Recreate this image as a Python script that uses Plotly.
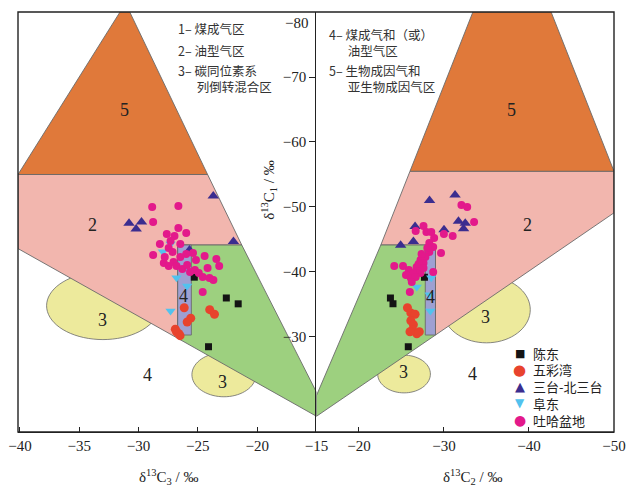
import numpy as np
import plotly.graph_objects as go

# ---------------- sample data: left panel (δ13C3, δ13C1), right panel (δ13C2, δ13C1)
chendong_c3 = [-25.3, -22.6, -21.6, -24.1]
chendong_c1_l = [-39.2, -36.0, -35.1, -28.5]
chendong_c2 = [-27.7, -23.7, -24.0, -25.8]
chendong_c1_r = [-39.2, -36.0, -35.1, -28.5]

wucaiwan_c3 = [-26.15, -24.0, -23.6, -25.6, -25.9, -26.9, -26.6, -26.8, -26.5]
wucaiwan_c1_l = [-34.5, -34.2, -33.5, -32.9, -32.3, -31.2, -30.5, -30.8, -30.2]
wucaiwan_c2 = [-25.7, -26.1, -26.6, -26.1, -26.4, -26.3, -27.1, -26.8, -26.0]
wucaiwan_c1_r = [-34.5, -33.7, -33.5, -32.5, -31.9, -31.1, -30.8, -30.5, -30.8]

santai_c3 = [-23.7, -30.8, -29.75, -30.2, -22.0, -25.7]
santai_c1_l = [-51.7, -47.5, -47.7, -46.6, -44.7, -43.4]
santai_c2 = [-28.3, -31.3, -26.6, -30.0, -31.7, -32.5, -32.3, -26.4, -24.9]
santai_c1_r = [-51.0, -51.85, -47.0, -46.5, -47.8, -47.5, -46.65, -44.7, -44.1]

fudong_c3 = [-27.3, -27.95, -26.8, -25.9, -27.3, -26.0]
fudong_c1_l = [-44.3, -43.1, -39.1, -37.85, -34.0, -40.6]
fudong_c2 = [-26.8, -28.5, -28.4, -28.3]
fudong_c1_r = [-37.7, -39.1, -34.0, -36.5]

tuha_c3 = [-28.85, -26.64, -28.77, -26.64, -25.98, -27.62, -26.97, -27.3, -28.2,
           -26.48, -27.46, -28.77, -27.13, -25.98, -25.41, -24.43, -23.44, -23.2,
           -25.16, -27.87, -27.46, -27.05, -26.8, -26.31, -25.9, -25.25, -24.92,
           -24.59, -24.02, -23.69, -25.66, -24.59, -26.48, -27.79, -24.18]
tuha_c1_l = [-50.0, -50.15, -47.69, -46.77, -46.0, -45.85, -45.54, -44.77, -44.31,
             -44.31, -43.69, -42.62, -43.08, -42.77, -42.92, -42.46, -42.0, -40.92,
             -41.85, -41.38, -40.92, -41.54, -40.92, -40.46, -41.08, -40.31, -39.85,
             -39.23, -39.08, -38.77, -40.0, -36.92, -42.31, -42.31, -40.62]
tuha_c2 = [-32.05, -32.73, -33.54, -31.02, -29.99, -27.59, -26.67, -27.93, -28.5,
           -28.84, -28.27, -28.73, -29.65, -28.27, -27.81, -27.24, -24.15, -25.18,
           -26.78, -27.59, -25.87, -26.44, -27.24, -25.53, -26.1, -26.67, -28.73,
           -25.98, -28.04, -27.36, -27.01, -26.21, -27.59]
tuha_c1_r = [-50.31, -50.0, -47.69, -45.54, -45.85, -47.08, -46.31, -46.15, -46.15,
             -45.23, -44.46, -43.85, -42.92, -43.08, -42.31, -41.85, -40.92, -40.92,
             -40.77, -41.38, -40.31, -39.85, -39.85, -39.54, -39.08, -39.23, -40.0,
             -36.92, -43.69, -42.77, -41.23, -38.46, -40.62]

# ---------------- genetic zones (x, y vertex lists)
zone5_left = [(-40.16, -55.0), (-31.56, -80.0), (-30.74, -80.0), (-24.18, -55.0)]
zone2_left = [(-40.16, -55.0), (-24.18, -55.0), (-21.3, -44.15), (-26.7, -44.15),
              (-26.7, -29.8), (-40.16, -43.6)]
zone1_left = [(-26.7, -44.15), (-21.3, -44.15), (-15.0, -21.5), (-15.0, -17.8),
              (-26.7, -29.8)]
zone4_left_box = [(-26.7, -44.15), (-25.55, -44.15), (-25.55, -30.3), (-26.7, -30.3)]

zone5_right = [(-33.4, -80.0), (-42.6, -80.0), (-50.0, -55.5), (-26.0, -55.5)]
zone2_right = [(-26.0, -55.5), (-50.0, -55.5), (-50.0, -49.1), (-29.0, -30.3),
               (-29.0, -44.15), (-22.57, -44.15)]
zone1_right = [(-22.57, -44.15), (-29.0, -44.15), (-29.0, -30.3), (-15.0, -17.8),
               (-15.0, -21.0)]
zone4_right_box = [(-27.8, -44.15), (-29.0, -44.15), (-29.0, -30.3), (-27.8, -30.3)]

# mixing zones "3": (centre x, centre y, half-width, half-height)
zone3_left = [(-33.0, -34.8, 4.75, 5.2), (-22.8, -24.2, 2.7, 3.4)]
zone3_right = [(-35.0, -34.2, 5.15, 5.1), (-25.3, -24.3, 3.1, 2.9)]

# zone number labels (x, y, text)
labels_left = [(-31.15, -64.9, "5"), (-33.85, -47.2, "2"), (-26.2, -36.3, "4"),
               (-33.0, -32.6, "3"), (-22.95, -23.1, "3"), (-29.26, -24.15, "4")]
labels_right = [(-37.9, -64.9, "5"), (-39.8, -47.2, "2"), (-28.4, -36.2, "4"),
                (-34.9, -33.1, "3"), (-25.2, -24.6, "3"), (-33.4, -24.3, "4")]

y_ticks = [-80, -70, -60, -50, -40, -30]

ORANGE = "#E0793A"
PINK = "#F2B6AE"
GREEN = "#9DD07F"
YELLOW = "#EDEA9C"
LILAC = "#9EA0D2"
EDGE = "#6A6A6A"

SERIF = "Liberation Serif, Noto Sans CJK SC, serif"
CJK = "Noto Sans CJK SC, Liberation Serif, serif"
SYM = "DejaVu Sans, sans-serif"

W, H = 634, 486
ML, MR, MT, MB = 13, 8, 12, 54
PW, PH = W - ML - MR, H - MT - MB
split = (320 - ML) / PW


def px_x(px):
    return (px - ML) / PW


def px_y(py):
    return (H - MB - py) / PH


def poly_path(pts):
    return "M " + " L ".join(f"{x},{y}" for x, y in pts) + " Z"


def ellipse_path(cx, cy, rx, ry, n=72):
    t = np.linspace(0, 2 * np.pi, n, endpoint=False)
    return poly_path(list(zip(cx + rx * np.cos(t), cy + ry * np.sin(t))))


fig = go.Figure()

shapes = []
for xr, ells, z2, z5, z1, box in [
    ("x", zone3_left, zone2_left, zone5_left, zone1_left, zone4_left_box),
    ("x2", zone3_right, zone2_right, zone5_right, zone1_right, zone4_right_box),
]:
    for cx, cy, rx, ry in ells:
        shapes.append(dict(type="path", path=ellipse_path(cx, cy, rx, ry), xref=xr, yref="y",
                           fillcolor=YELLOW, line=dict(color=EDGE, width=0.8), layer="below"))
    for pts, col in [(z2, PINK), (z5, ORANGE), (z1, GREEN), (box, LILAC)]:
        shapes.append(dict(type="path", path=poly_path(pts), xref=xr, yref="y",
                           fillcolor=col, line=dict(color=EDGE, width=0.9), layer="below"))

# outer frame
shapes.append(dict(type="rect", xref="paper", yref="paper", x0=0, x1=1, y0=0, y1=1,
                   line=dict(color="#222", width=1.4), fillcolor="rgba(0,0,0,0)"))

groups = [
    ("陈东", "square", 7, "#141414", "■", 11, chendong_c3, chendong_c1_l, chendong_c2, chendong_c1_r),
    ("五彩湾", "circle", 9, "#E8432D", "●", 15, wucaiwan_c3, wucaiwan_c1_l, wucaiwan_c2, wucaiwan_c1_r),
    ("三台-北三台", "triangle-up", 10, "#3B2D8F", "▲", 13, santai_c3, santai_c1_l, santai_c2, santai_c1_r),
    ("阜东", "triangle-down", 9, "#52C2EE", "▼", 12, fudong_c3, fudong_c1_l, fudong_c2, fudong_c1_r),
    ("吐哈盆地", "circle", 8, "#E3198B", "●", 14, tuha_c3, tuha_c1_l, tuha_c2, tuha_c1_r),
]
for name, sym, size, col, _, _, x3, y3, x2, y2 in groups:
    mk = dict(symbol=sym, size=size, color=col, line=dict(width=0))
    fig.add_trace(go.Scatter(x=x3, y=y3, mode="markers", marker=mk, name=name,
                             xaxis="x", yaxis="y", showlegend=False))
    fig.add_trace(go.Scatter(x=x2, y=y2, mode="markers", marker=mk, name=name,
                             xaxis="x2", yaxis="y", showlegend=False))

ann = []


def paper_text(px, py, text, font, xanchor="center", **kw):
    ann.append(dict(x=px_x(px), y=px_y(py), xref="paper", yref="paper", text=text,
                    showarrow=False, xanchor=xanchor, yanchor="middle", font=font, **kw))


for xr, labs in [("x", labels_left), ("x2", labels_right)]:
    for x, y, t in labs:
        ann.append(dict(x=x, y=y, xref=xr, yref="y", text=t, showarrow=False,
                        xanchor="center", yanchor="middle",
                        font=dict(family=SERIF, size=18, color="#222")))

# zone key text
key_font = dict(family=CJK, size=12.5, color="#333")
key_text = [(175, 29, "1– 煤成气区"), (175, 50, "2– 油型气区"),
            (175, 78, "3– 碳同位素系<br>\u3000\u2002列倒转混合区"),
            (331, 43, "4– 煤成气和（或）<br>\u3000\u2002油型气区"),
            (331, 78, "5– 生物成因气和<br>\u3000\u2002亚生物成因气区")]
for px, py, t in key_text:
    paper_text(px, py, t, key_font, xanchor="left", align="left")

# marker key (lower right)
for i, (name, _, _, col, glyph, gsize, *_rest) in enumerate(groups):
    ry = 353 + i * 16.8
    paper_text(529, ry, glyph, dict(family=SYM, size=gsize, color=col))
    paper_text(541, ry, name, dict(family=CJK, size=13, color="#222"), xanchor="left")

# axis titles
title_font = dict(family=SERIF, size=15, color="#222")
paper_text(168, 477, "δ<sup>13</sup>C<sub>3</sub> / ‰", title_font)
paper_text(481, 477, "δ<sup>13</sup>C<sub>2</sub> / ‰", title_font)
paper_text(271, 190, "δ<sup>13</sup>C<sub>1</sub> / ‰", title_font, textangle=-90)
# top y label sits just inside the frame
paper_text(313, 23, f"\u2212{abs(y_ticks[0])}", dict(family=SERIF, size=15, color="#222"),
           xanchor="right")

axis_common = dict(showgrid=False, zeroline=False, showline=True, linecolor="#222",
                   linewidth=1.4, ticks="inside", ticklen=5, tickcolor="#222",
                   tickfont=dict(family=SERIF, size=15, color="#222"))

fig.update_layout(
    width=W, height=H,
    margin=dict(l=ML, r=MR, t=MT, b=MB),
    paper_bgcolor="white", plot_bgcolor="white",
    xaxis=dict(domain=[0, split], range=[-40.16, -15], anchor="y",
               tickvals=[-40, -35, -30, -25, -20, -15], **axis_common),
    xaxis2=dict(domain=[split, 1], range=[-15, -50], anchor="y",
                tickvals=[-20, -30, -40, -50], **axis_common),
    yaxis=dict(range=[-15.38, -80], anchor="x2", side="left", showgrid=False,
               zeroline=False, showline=True, linecolor="#222", linewidth=1.4,
               ticks="outside", ticklen=6, tickcolor="#222",
               tickvals=y_ticks[1:],
               tickfont=dict(family=SERIF, size=15, color="#222")),
    shapes=shapes,
    annotations=ann,
    showlegend=False,
)

fig.write_html("out.html")
